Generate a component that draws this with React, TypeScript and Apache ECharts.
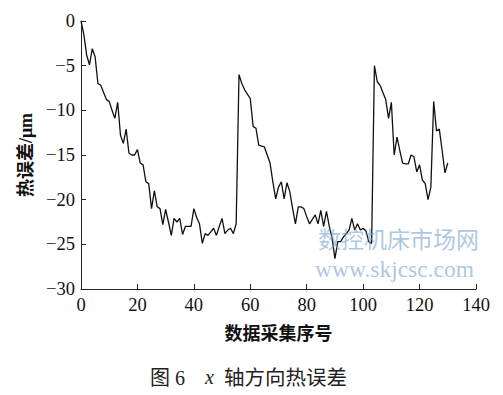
import React, { useEffect, useRef } from "react";
import * as echarts from "echarts";

const xTicks = [0, 20, 40, 60, 80, 100, 120, 140];
const yTicks = [0, -5, -10, -15, -20, -25, -30];
const thermalError = [
  0, -1.5, -3.8, -4.9, -3.1, -4.0, -7.0, -7.2, -8.0, -8.8,
  -9.0, -10.0, -10.9, -9.1, -12.8, -13.7, -12.1, -14.8, -15.0, -15.0,
  -14.4, -15.9, -16.1, -18.0, -18.2, -21.0, -19.0, -20.8, -21.0, -22.8,
  -21.1, -22.5, -24.0, -22.1, -22.5, -22.1, -23.9, -23.0, -23.0, -23.0,
  -21.0, -22.0, -22.7, -24.9, -23.8, -24.0, -23.6, -23.2, -24.0, -23.0,
  -22.1, -23.8, -23.4, -23.2, -23.8, -22.7, -6.0, -7.0, -7.7, -8.2,
  -8.7, -11.8, -12.0, -13.9, -14.0, -14.1, -15.0, -15.9, -18.0, -19.9,
  -18.6, -18.0, -19.9, -18.1, -19.1, -21.0, -22.7, -20.8, -20.8, -21.0,
  -21.9, -22.7, -22.2, -21.7, -22.7, -21.2, -23.0, -21.3, -23.0, -24.3,
  -26.6, -24.7, -24.7, -24.2, -23.8, -23.4, -22.1, -23.4, -22.7, -23.4,
  -23.2, -23.5, -24.7, -24.9, -5.0, -6.8, -7.2, -8.0, -8.8, -10.9,
  -9.1, -15.0, -13.0, -14.5, -15.9, -16.0, -16.0, -15.0, -15.2, -16.9,
  -16.1, -17.8, -18.2, -20.0, -18.6, -9.0, -12.3, -12.1, -14.5, -17.0,
  -15.9,
];
const xName = "数据采集序号";
const yName = "热误差/μm";
const watermark1 = "数控机床市场网";
const watermark2 = "www.skjcsc.com";
const captionNum = "图 6";
const captionVar = "x";
const captionText = "轴方向热误差";

const serif = '"Liberation Serif", "DejaVu Serif", serif';
const cjk = '"Liberation Serif", "Noto Sans CJK SC", serif';

export default function App() {
  const ref = useRef<HTMLDivElement>(null);
  useEffect(() => {
    if (!ref.current) return;
    const chart = echarts.init(ref.current, null, { renderer: "svg" });
    const data = thermalError.map((v, i) => [i, v]);
    const wm = "rgba(120,160,205,0.6)";
    chart.setOption({
      animation: false,
      backgroundColor: "#ffffff",
      grid: { left: 81, right: 27, top: 21, bottom: 106, containLabel: false },
      xAxis: {
        type: "value",
        min: xTicks[0],
        max: xTicks[xTicks.length - 1],
        interval: 20,
        name: xName,
        nameLocation: "middle",
        nameGap: 36,
        nameTextStyle: { fontFamily: cjk, fontSize: 18, fontWeight: "bold", color: "#111" },
        axisLine: { show: true, onZero: false, lineStyle: { color: "#222", width: 1 } },
        axisTick: { show: true, inside: true, length: 5, lineStyle: { color: "#222" } },
        axisLabel: { fontFamily: serif, fontSize: 18.5, color: "#111", margin: 6 },
        splitLine: { show: false },
      },
      yAxis: {
        type: "value",
        min: yTicks[yTicks.length - 1],
        max: yTicks[0],
        interval: 5,
        name: yName,
        nameLocation: "middle",
        nameGap: 45,
        nameRotate: 90,
        nameTextStyle: { fontFamily: cjk, fontSize: 18, fontWeight: "bold", color: "#111" },
        axisLine: { show: true, onZero: false, lineStyle: { color: "#222", width: 1 } },
        axisTick: { show: true, inside: true, length: 5, lineStyle: { color: "#222" } },
        axisLabel: {
          fontFamily: serif,
          fontSize: 18.5,
          color: "#111",
          margin: 6,
          formatter: (v: number) => String(v).replace("-", "\u2212"),
        },
        splitLine: { show: false },
      },
      series: [
        {
          type: "line",
          data,
          showSymbol: false,
          symbol: "none",
          lineStyle: { color: "#111", width: 1.3 },
          z: 3,
        },
      ],
      graphic: [
        {
          type: "text",
          left: 318,
          top: 226,
          z: 10,
          style: { text: watermark1, font: '23px "Noto Sans CJK SC", serif', fill: wm, lineHeight: 24 },
        },
        {
          type: "text",
          left: 315,
          top: 257,
          z: 10,
          style: { text: watermark2, font: `23.5px ${serif}`, fill: wm, lineHeight: 22 },
        },
        {
          type: "text",
          left: 150,
          top: 368,
          style: { text: captionNum, font: `20px ${cjk}`, fill: "#222" },
        },
        {
          type: "text",
          left: 205,
          top: 367,
          style: { text: captionVar, font: `italic 20px ${serif}`, fill: "#222" },
        },
        {
          type: "text",
          left: 224,
          top: 368,
          style: { text: captionText, font: `20.5px ${cjk}`, fill: "#222" },
        },
      ],
    });
    return () => chart.dispose();
  }, []);
  return (
    <div
      ref={ref}
      style={{ position: "fixed", left: 0, top: 0, width: 503, height: 395, background: "#fff" }}
    />
  );
}
